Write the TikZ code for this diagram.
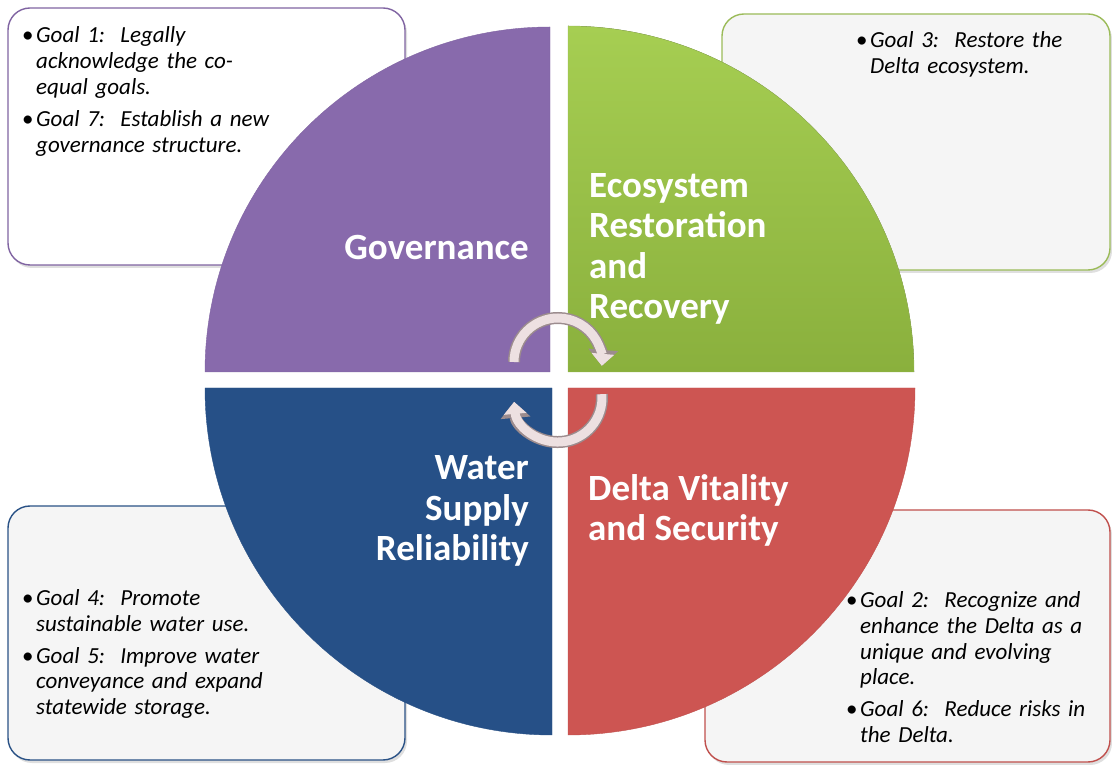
\documentclass[tikz,border=0pt]{standalone}
\usepackage{fontspec}
\setmainfont{Carlito}
\usepackage{xcolor}
\usetikzlibrary{arrows.meta,shadows}

\definecolor{govpurple}{HTML}{886AAC}
\definecolor{govedge}{HTML}{8064A2}
\definecolor{ecogreen}{HTML}{8AB03D}
\definecolor{ecolight}{HTML}{A6CE52}
\definecolor{ecoedge}{HTML}{9BBB59}
\definecolor{waterblue}{HTML}{265087}
\definecolor{wateredge}{HTML}{2A5286}
\definecolor{deltared}{HTML}{CD5552}
\definecolor{deltaedge}{HTML}{C0504D}
\definecolor{boxgray}{HTML}{F5F5F5}
\definecolor{arrowpink}{HTML}{EDE0E1}
\definecolor{arrowedge}{HTML}{9C8C8E}

\newcommand{\goal}[1]{\par\hangindent=14pt\hangafter=1\noindent\makebox[14pt][l]{\textbullet}{\itshape #1}\par}

\tikzset{
  goalbox/.style={rounded corners=22pt, line width=1.4pt, inner sep=0pt,
    drop shadow={opacity=0.25, shadow xshift=2pt, shadow yshift=-3pt}},
  goaltext/.style={anchor=north west, inner sep=0pt, text width=340pt,
    font=\fontsize{23}{25.7}\selectfont},
  quadlabel/.style={inner sep=0pt, text=white,
    font=\bfseries\fontsize{37}{40.5}\selectfont},
  cycle body/.style={line width=12pt, arrowedge, -{Triangle[length=16pt,width=29pt]}},
  cycle fill/.style={line width=9pt, arrowpink, -{Triangle[length=12pt,width=22pt]}}
}

\begin{document}
\begin{tikzpicture}[x=1pt,y=1pt]
\useasboundingbox (0,0) rectangle (1112,764);

% goal boxes
\node[goalbox, draw=govedge, fill=white, minimum width=397pt, minimum height=257pt] (govbox) at (206.5,627.5) {};
\node[goalbox, draw=ecoedge, fill=boxgray, minimum width=388pt, minimum height=256pt] (ecobox) at (916,622) {};
\node[goalbox, draw=wateredge, fill=boxgray, minimum width=397pt, minimum height=254pt] (waterbox) at (206.5,131) {};
\node[goalbox, draw=deltaedge, fill=boxgray, minimum width=405pt, minimum height=252pt] (deltabox) at (907.5,128) {};

\node[goaltext] (govgoals) at (22,747) {\goal{Goal 1:\ \ Legally\newline acknowledge the co-\newline equal goals.}\vspace{7pt}\goal{Goal 7:\ \ Establish a new\newline governance structure.}};
\node[goaltext] (ecogoals) at (856,742) {\goal{Goal 3:\ \ Restore the\newline Delta ecosystem.}};
\node[goaltext] (watergoals) at (22,184) {\goal{Goal 4:\ \ Promote\newline sustainable water use.}\vspace{6pt}\goal{Goal 5:\ \ Improve water\newline conveyance and expand\newline statewide storage.}};
\node[goaltext] (deltagoals) at (846,182) {\goal{Goal 2:\ \ Recognize and\newline enhance the Delta as a\newline unique and evolving\newline place.}\vspace{6pt}\goal{Goal 6:\ \ Reduce risks in\newline the Delta.}};

% quadrants
\fill[govpurple, draw=govedge] (550,392) -- (205,392) arc[start angle=180, end angle=90, radius=345] -- cycle;
\fill[top color=ecolight, bottom color=ecogreen, draw=ecoedge] (568,392) -- (568,738) arc[start angle=90, end angle=0, radius=346] -- cycle;
\fill[waterblue, draw=wateredge] (552,376) -- (205,376) arc[start angle=180, end angle=270, radius=347] -- cycle;
\fill[deltared, draw=deltaedge] (568,376) -- (915,376) arc[start angle=0, end angle=-90, radius=347] -- cycle;

\node[quadlabel, anchor=base east] (gov) at (529,504) {Governance};
\node[quadlabel, anchor=base west, align=left] (eco) at (589,445) {Ecosystem\\Restoration\\and\\Recovery};
\node[quadlabel, anchor=base east, align=right] (water) at (529,203) {Water\\Supply\\Reliability};
\node[quadlabel, anchor=base west, align=left] (delta) at (588,223) {Delta Vitality\\and Security};

% cycle arrows
\coordinate (topstart) at (514,402);
\coordinate (botstart) at (601.8,369.8);
\draw[cycle body] (topstart) arc[start angle=180, end angle=-5, radius=44];
\draw[cycle fill] (topstart) arc[start angle=180, end angle=-5, radius=44];
\draw[cycle body] (botstart) arc[start angle=5, end angle=-175, radius=44];
\draw[cycle fill] (botstart) arc[start angle=5, end angle=-175, radius=44];
\end{tikzpicture}
\end{document}
